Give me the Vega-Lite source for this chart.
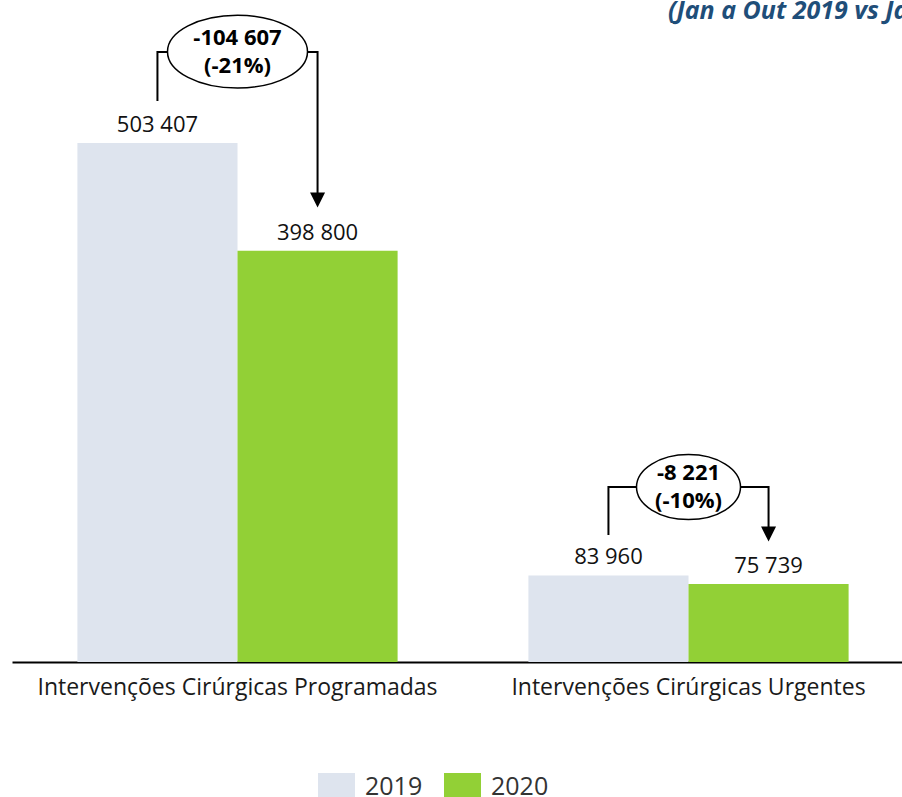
{
  "$schema": "https://vega.github.io/schema/vega-lite/v6.json",
  "autosize": "none",
  "width": 902,
  "height": 632,
  "padding": {"left": 12, "top": 30, "right": 0, "bottom": 135},
  "background": "white",
  "config": {
    "view": {"stroke": null},
    "font": "Open Sans",
    "locale": {"number": {"decimal": ",", "thousands": " ", "grouping": [3], "currency": ["", " €"]}}
  },
  "title": {
    "text": "(Jan a Out 2019 vs Jan a Out 2020)",
    "anchor": "start",
    "dx": 656,
    "dy": 27,
    "offset": -5,
    "baseline": "alphabetic",
    "fontSize": 25,
    "fontWeight": "bold",
    "fontStyle": "italic",
    "color": "#1F4E79",
    "font": "Open Sans"
  },
  "datasets": {
    "bars": [
      {"cat": "Intervenções Cirúrgicas Programadas", "year": "2019", "value": 503407},
      {"cat": "Intervenções Cirúrgicas Programadas", "year": "2020", "value": 398800},
      {"cat": "Intervenções Cirúrgicas Urgentes", "year": "2019", "value": 83960},
      {"cat": "Intervenções Cirúrgicas Urgentes", "year": "2020", "value": 75739}
    ],
    "bracket": [
      {"cat": "Intervenções Cirúrgicas Programadas", "year": "2019", "v": 544100, "o": 1},
      {"cat": "Intervenções Cirúrgicas Programadas", "year": "2019", "v": 591700, "o": 2},
      {"cat": "Intervenções Cirúrgicas Programadas", "year": "2020", "v": 591700, "o": 3},
      {"cat": "Intervenções Cirúrgicas Programadas", "year": "2020", "v": 453000, "o": 4},
      {"cat": "Intervenções Cirúrgicas Urgentes", "year": "2019", "v": 123200, "o": 1},
      {"cat": "Intervenções Cirúrgicas Urgentes", "year": "2019", "v": 169700, "o": 2},
      {"cat": "Intervenções Cirúrgicas Urgentes", "year": "2020", "v": 169700, "o": 3},
      {"cat": "Intervenções Cirúrgicas Urgentes", "year": "2020", "v": 130900, "o": 4}
    ],
    "arrows": [
      {"cat": "Intervenções Cirúrgicas Programadas", "year": "2020", "v": 448100},
      {"cat": "Intervenções Cirúrgicas Urgentes", "year": "2020", "v": 124100}
    ],
    "bubbles": [
      {"cat": "Intervenções Cirúrgicas Programadas", "v": 592000, "label": "-104 607\n(-21%)"},
      {"cat": "Intervenções Cirúrgicas Urgentes", "v": 169700, "label": "-8 221\n(-10%)"}
    ]
  },
  "encoding": {
    "x": {
      "field": "cat", "type": "nominal", "sort": null,
      "scale": {"paddingInner": 0.29, "paddingOuter": 0.145},
      "axis": {
        "title": null, "labelAngle": 0, "ticks": false, "labelPadding": 14, "labelLimit": 0,
        "labelFontSize": 23, "labelColor": "#1a1a1a", "labelFont": "Open Sans",
        "domainColor": "#000", "domainWidth": 2
      }
    }
  },
  "layer": [
    {
      "data": {"name": "bars"},
      "mark": {"type": "bar"},
      "encoding": {
        "xOffset": {"field": "year", "type": "nominal", "sort": ["2019", "2020"], "scale": {"paddingInner": 0, "paddingOuter": 0}},
        "y": {"field": "value", "type": "quantitative", "scale": {"domain": [0, 613000], "nice": false, "zero": true}, "axis": null},
        "color": {
          "field": "year", "type": "nominal",
          "scale": {"domain": ["2019", "2020"], "range": ["#DEE4EE", "#92D036"]},
          "legend": {
            "title": null, "orient": "none", "direction": "horizontal",
            "legendX": 306, "legendY": 738,
            "symbolType": "M-1,-0.75H1V0.75H-1Z", "symbolSize": 1369, "symbolStrokeWidth": 0,
            "symbolOpacity": 1,
            "labelFontSize": 25, "labelColor": "#333", "labelOffset": 10, "columnPadding": 21,
            "labelFont": "Open Sans"
          }
        }
      }
    },
    {
      "data": {"name": "bars"},
      "mark": {"type": "text", "baseline": "bottom", "dy": -6, "fontSize": 22, "color": "#111"},
      "encoding": {
        "xOffset": {"field": "year", "type": "nominal", "sort": ["2019", "2020"]},
        "y": {"field": "value", "type": "quantitative"},
        "text": {"field": "value", "type": "quantitative", "format": ",d"}
      }
    },
    {
      "data": {"name": "bracket"},
      "mark": {"type": "line", "color": "#000", "strokeWidth": 2},
      "encoding": {
        "xOffset": {"field": "year", "type": "nominal", "sort": ["2019", "2020"]},
        "y": {"field": "v", "type": "quantitative"},
        "detail": {"field": "cat"},
        "order": {"field": "o", "type": "quantitative"}
      }
    },
    {
      "data": {"name": "arrows"},
      "mark": {"type": "point", "shape": "M-1,-1L1,-1L0,1Z", "size": 225, "filled": true, "color": "#000", "opacity": 1},
      "encoding": {
        "xOffset": {"field": "year", "type": "nominal", "sort": ["2019", "2020"]},
        "y": {"field": "v", "type": "quantitative"}
      }
    },
    {
      "data": {"name": "bubbles"},
      "transform": [{"filter": "datum.v > 300000"}],
      "mark": {"type": "point", "shape": "M-1,0A1,0.52,0,1,1,1,0A1,0.52,0,1,1,-1,0Z", "size": 19600, "filled": false, "fill": "white", "fillOpacity": 1, "stroke": "#000", "strokeWidth": 1.5, "opacity": 1},
      "encoding": {
        "y": {"field": "v", "type": "quantitative"}
      }
    },
    {
      "data": {"name": "bubbles"},
      "transform": [{"filter": "datum.v < 300000"}],
      "mark": {"type": "point", "shape": "M-1,0A1,0.625,0,1,1,1,0A1,0.625,0,1,1,-1,0Z", "size": 10816, "filled": false, "fill": "white", "fillOpacity": 1, "stroke": "#000", "strokeWidth": 1.5, "opacity": 1},
      "encoding": {
        "y": {"field": "v", "type": "quantitative"}
      }
    },
    {
      "data": {"name": "bubbles"},
      "mark": {"type": "text", "lineBreak": "\n", "fontSize": 22, "fontWeight": "bold", "color": "#000", "lineHeight": 28, "baseline": "middle", "dy": -14},
      "encoding": {
        "y": {"field": "v", "type": "quantitative"},
        "text": {"field": "label"}
      }
    }
  ]
}
